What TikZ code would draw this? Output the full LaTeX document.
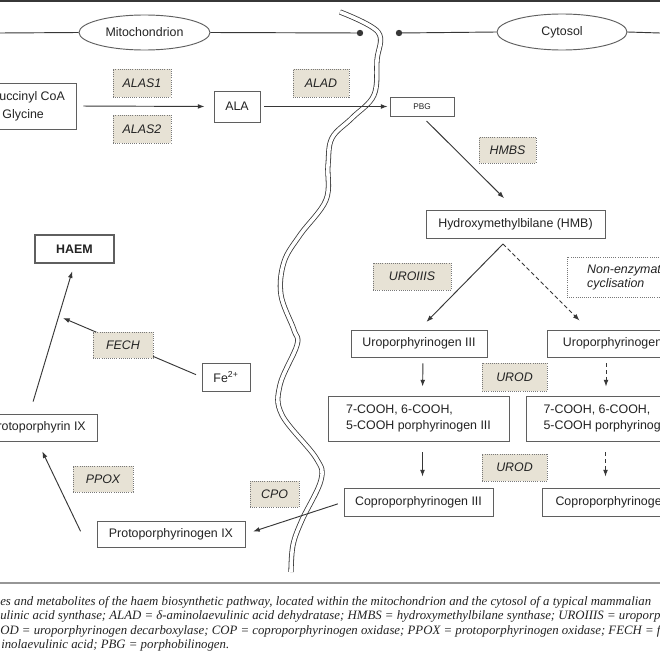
\documentclass[tikz,border=0pt]{standalone}
\usepackage{fontspec}
\setmainfont{Liberation Sans}
\newfontfamily\capfont{Liberation Serif}
\usetikzlibrary{arrows.meta,calc,shapes.geometric}
\definecolor{linegray}{RGB}{55,55,55}
\definecolor{boxgray}{RGB}{95,95,95}
\definecolor{enzfill}{RGB}{231,226,213}
\definecolor{enzline}{RGB}{120,120,120}
\definecolor{txt}{RGB}{35,35,35}
\definecolor{sepgray}{RGB}{150,150,150}
\begin{document}
\begin{tikzpicture}[x=0.75pt,y=-0.75pt,
  every node/.style={font=\fontsize{9.3}{11}\selectfont, text=txt},
  box/.style n args={2}{draw=boxgray, line width=0.7pt, fill=white, inner sep=0pt,
     minimum width=#1*0.75pt, minimum height=#2*0.75pt},
  enz/.style n args={2}{draw=enzline, densely dotted, line width=0.6pt, fill=enzfill, inner sep=0pt,
     font=\fontsize{9.3}{11}\selectfont\itshape, minimum width=#1*0.75pt, minimum height=#2*0.75pt},
  region/.style n args={2}{ellipse, draw=boxgray, line width=0.7pt, fill=white, inner sep=0pt,
     minimum width=#1*0.75pt, minimum height=#2*0.75pt},
  arr/.style={draw=linegray, line width=0.7pt, -{Latex[length=5pt,width=3.6pt]}},
  darr/.style={arr, dash pattern=on 3pt off 2pt},
  plain/.style={draw=linegray, line width=0.7pt},
  caption/.style={anchor=base west, inner sep=0pt, font=\capfont\itshape\fontsize{9.6}{11}\selectfont, text=txt}
]
\useasboundingbox (0,0) rectangle (660,660);
\clip (0,0) rectangle (660,660);
\fill[white] (0,0) rectangle (660,660);
\draw[linegray, line width=1.4pt] (0,0.8) -- (660,0.8);

% membrane
\draw[linegray, line width=0.6pt, double=white, double distance=2.7pt]
  plot[smooth, tension=0.6] coordinates {(340,12) (378,32) (377,60) (374,95) (352,118) (332,138) (328,165) (326,200) (300,235) (284,262) (281,295) (294,330) (297,345) (280,385) (282,415) (316,458) (321,480) (302,520) (293,545) (291,572)};

% region labels
\node[region={131}{35}] (mito) at (144.5,32.5) {Mitochondrion};
\node[region={130}{36}] (cyto) at (562,32) {Cytosol};
\coordinate (l0) at (0,33);
\coordinate (dot1) at (360,33);
\coordinate (dot2) at (399,33);
\coordinate (r0) at (660,33);
\draw[plain] (l0) -- (mito.west);
\draw[plain] (mito.east) -- (dot1);
\draw[plain] (dot2) -- (cyto.west);
\draw[plain] (cyto.east) -- (r0);
\fill[linegray] (dot1) circle[radius=2.4pt];
\fill[linegray] (dot2) circle[radius=2.4pt];

% metabolites
\node[box={96}{46}, align=left, font=\fontsize{9.3}{13.5}\selectfont] (succ) at (28,106) {Succinyl CoA\\\hspace*{8.5pt}Glycine};
\node[box={46}{31}] (ala) at (237,106.5) {ALA};
\node[box={64}{19}, font=\fontsize{6.2}{7}\selectfont] (pbg) at (422,106.5) {PBG};
\node[box={179}{28}] (hmb) at (515.5,224) {Hydroxymethylbilane (HMB)};
\node[box={136}{27}] (uro3) at (419,343.5) {Uroporphyrinogen III};
\node[box={138}{27}] (uro1) at (616,343.5) {Uroporphyrinogen I};
\node[box={181}{45}, align=left, font=\fontsize{9.3}{12}\selectfont] (cooh3) at (418.5,418.5) {7-COOH, 6-COOH,\\5-COOH porphyrinogen III};
\node[box={173}{45}, align=left, font=\fontsize{9.3}{12}\selectfont] (cooh1) at (612.5,418.5) {7-COOH, 6-COOH,\\5-COOH porphyrinogen I};
\node[box={149}{28}] (copro3) at (418.5,502) {Coproporphyrinogen III};
\node[box={147}{28}] (copro1) at (615.5,502) {Coproporphyrinogen I};
\node[box={148}{26}] (protogen) at (171,534) {Protoporphyrinogen IX};
\node[box={119}{27}] (proto) at (37.5,427.5) {Protoporphyrin IX};
\node[box={79}{28}, line width=0.9pt, font=\fontsize{9.3}{11}\selectfont\bfseries] (haem) at (74.5,249) {HAEM};
\node[box={48}{28}] (fe) at (226,377) {Fe\textsuperscript{2+}};

% connectors
\coordinate (split) at (503,244);
\coordinate (fechtip) at (63,318);
\draw[arr, shorten <=5.25pt, shorten >=6.75pt] (succ.east) -- (ala.west);
\draw[arr, shorten <=3pt, shorten >=1.5pt] (ala.east) -- (pbg.west);
\draw[arr, shorten <=4.8pt, shorten >=12pt] (pbg.south) -- (hmb.north);
\draw[arr, shorten >=8pt] (split) -- (uro3.north);
\draw[darr, shorten >=9.5pt] (split) -- ($(uro1.north west)+(42,0)$);
\draw[arr, shorten <=4.5pt, shorten >=6.75pt] ([xshift=3pt]uro3.south) -- ([xshift=3pt]cooh3.north);
\draw[arr, shorten <=8.25pt, shorten >=8.25pt] ([xshift=3pt]cooh3.south) -- ([xshift=3pt]copro3.north);
\coordinate (d1a) at ([xshift=-7.5pt]uro1.south);
\coordinate (d2a) at ([xshift=-7.5pt]copro1.north);
\draw[darr, shorten <=4.5pt, shorten >=6.75pt] (d1a) -- (d1a |- cooh1.north);
\draw[darr, shorten <=8.25pt, shorten >=8.25pt] (d2a |- cooh1.south) -- (d2a);
\draw[arr, shorten <=4.5pt, shorten >=6pt] (copro3.west) -- (protogen.east);
\draw[arr, shorten <=2.25pt, shorten >=8.25pt] ([xshift=-11pt]protogen.west) -- (proto.south);
\draw[arr, shorten <=9.4pt, shorten >=6pt] ([xshift=-6pt]proto.north) -- (haem.south);
\draw[arr, shorten <=4.5pt] (fe.west) -- (fechtip);

% enzymes
\node[enz={58}{28}] (alas1) at (142,83) {ALAS1};
\node[enz={58}{28}] (alas2) at (142,129) {ALAS2};
\node[enz={56}{28}] (alad) at (321,83) {ALAD};
\node[enz={57}{26}] (hmbs) at (507.5,150) {HMBS};
\node[enz={78}{27}] (uroiiis) at (412,276.5) {UROIIIS};
\node[enz={65}{28}] (urod1) at (514.5,377) {UROD};
\node[enz={65}{27}] (urod2) at (514.5,467.5) {UROD};
\node[enz={49}{26}] (cpo) at (274.5,494) {CPO};
\node[enz={60}{26}] (ppox) at (103,479) {PPOX};
\node[enz={60}{26}] (fech) at (123,345) {FECH};
\node[enz={123}{40}, fill=white, align=left, font=\fontsize{9.3}{10.5}\selectfont\itshape] (nonenz) at (628.5,277) {Non-enzymatic\\cyclisation};

% caption
\draw[sepgray, line width=1.5pt] (0,583) -- (660,583);
\node[caption] (cap1) at (0,605) {es and metabolites of the haem biosynthetic pathway, located within the mitochondrion and the cytosol of a typical mammalian};
\node[caption] (cap2) at (0,619.5) {ulinic acid synthase; ALAD = δ-aminolaevulinic acid dehydratase; HMBS = hydroxymethylbilane synthase; UROIIIS = uroporp};
\node[caption] (cap3) at (0,634) {OD = uroporphyrinogen decarboxylase; COP = coproporphyrinogen oxidase; PPOX = protoporphyrinogen oxidase; FECH = f};
\node[caption] (cap4) at (1,648.5) {inolaevulinic acid; PBG = porphobilinogen.};
\end{tikzpicture}
\end{document}
